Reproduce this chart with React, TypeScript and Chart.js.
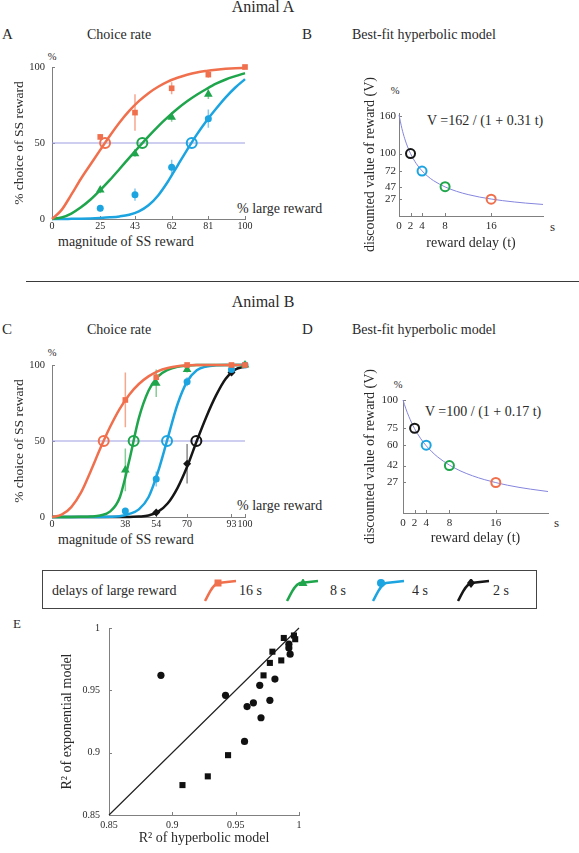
import React, { useEffect, useRef } from 'react';
import { Chart, registerables } from 'chart.js';

Chart.register(...registerables);

const SERIF = '"Liberation Serif", "Times New Roman", serif';
const TEXT = '#2a2a2a';
const AXIS = '#808080';
const ORANGE = '#f0704d';
const GREEN = '#1fa54c';
const BLUE = '#1ca4e0';
const BLACK = '#161616';
const ORANGE_ERR = '#f6a78e';
const GREEN_ERR = '#86cc96';
const BLUE_ERR = '#86c9ec';
const BLACK_ERR = '#8a8a8a';
const LAVENDER = '#9d9de2';
const HYPER = '#8585de';

// ---------- shared x grid for fitted choice curves (% large reward) ----------
const fitX = [0, 5, 10, 15, 20, 25, 30, 35, 40, 45, 50, 55, 60, 65, 70, 75, 80, 85, 90, 95, 100];
const midX = [0, 100];
const midY = [50, 50];

// ---------- Panel A : Animal A, choice rate ----------
const aTicksX = [0, 25, 43, 62, 81, 100];
const aTicksY = [0, 50, 100];
const aFit16 = [0, 6, 16, 26.5, 36, 45.5, 54.8, 63.5, 71.1, 77.5, 82.8, 87, 90.4, 92.9, 94.9, 96.4, 97.4, 98.2, 98.8, 99.2, 99.4];
const aFit8 = [0, 1, 3.6, 7.7, 12.8, 19, 25.7, 32.9, 40.2, 47.4, 54.4, 61, 67, 72.5, 77.4, 81.7, 85.5, 89, 91.8, 94, 96];
const aFit4 = [0, 0, 0.1, 0.2, 0.4, 0.7, 1.1, 1.7, 2.8, 5, 9, 15.5, 24.5, 35, 45.5, 55.5, 64.5, 72.5, 80, 86.5, 92];
const aX16 = [25, 43, 62, 81, 100];
const aY16 = [54, 70, 86, 95, 100];
const aE16 = [2, 12, 4, 2, 0];
const aX8 = [25, 43, 62, 81];
const aY8 = [19, 43, 67, 82];
const aE8 = [2, 2, 3, 3];
const aX4 = [25, 43, 62, 81];
const aY4 = [7, 16, 34, 66];
const aE4 = [2, 4, 5, 6];
const aHalfX = [27.5, 46.8, 72.4];
const aHalfY = [50, 50, 50];

// ---------- Panel C : Animal B, choice rate ----------
const cTicksX = [0, 38, 54, 70, 93, 100];
const cTicksY = [0, 50, 100];
const cFit16 = [0, 1.5, 6.5, 16, 30, 45, 59, 71, 80.5, 87.5, 92.5, 96, 98, 99.2, 99.7, 100, 100, 100, 100, 100, 100];
const cFit8 = [0, 0, 0, 0.1, 0.3, 1, 3.5, 12.5, 37, 65, 83, 92.5, 96.8, 98.8, 99.6, 100, 100, 100, 100, 100, 100];
const cFit4 = [0, 0, 0, 0, 0, 0, 0.1, 0.5, 2, 5, 13, 30, 52, 74, 89, 96.5, 99, 99.8, 100, 100, 100];
const cFit2 = [0, 0, 0, 0, 0, 0, 0, 0, 0, 0.3, 1, 3.5, 9, 19, 33, 50, 66, 80, 91, 97, 99];
const cX16 = [38, 54, 70, 93, 100];
const cY16 = [77, 92, 100, 100, 100];
const cE16 = [18, 3, 0, 0, 0];
const cX8 = [38, 54, 70, 100];
const cY8 = [31, 88, 97, 100];
const cE8 = [14, 9, 2, 0];
const cX4 = [38, 54, 70, 93, 100];
const cY4 = [4, 25, 89, 97, 100];
const cE4 = [2, 5, 3, 2, 0];
const cX2 = [54, 70, 93];
const cY2 = [3, 35, 95];
const cE2 = [2, 13, 2];
const cHalfX = [26.8, 42.3, 59.6, 74.8];
const cHalfY = [50, 50, 50, 50];

// ---------- Panels B and D : hyperbolic discounting ----------
const delayTicks = [0, 2, 4, 8, 16];
const delayT = [0, 0.5, 1, 1.5, 2, 3, 4, 5, 6, 8, 10, 12, 14, 16, 18, 20, 22, 25];
const bTicksY = [27, 47, 72, 100, 160];
const bCurve = [162, 140.3, 123.7, 110.6, 100, 83.9, 72.3, 63.5, 56.6, 46.6, 39.5, 34.3, 30.3, 27.2, 24.6, 22.5, 20.7, 18.5];
const markDelays = [2, 4, 8, 16];
const bMarks = [100, 72, 47, 27];
const dTicksY = [27, 42, 60, 75, 100];
const dCurve = [100, 92.2, 85.5, 79.7, 74.6, 66.2, 59.5, 54.1, 49.5, 42.4, 37.0, 32.9, 29.6, 26.9, 24.6, 22.7, 21.1, 19.0];
const dMarks = [75, 60, 42, 27];
const markColors = [BLACK, BLUE, GREEN, ORANGE];

// ---------- Panel E : R2 comparison ----------
const eTicks = [0.85, 0.9, 0.95, 1];
const diagX = [0.85, 1];
const diagY = [0.85, 1];
const circHyp = [0.891, 0.942, 0.959, 0.964, 0.969, 0.981, 0.977, 0.970, 0.957, 0.992, 0.992, 0.993];
const circExp = [0.962, 0.946, 0.937, 0.940, 0.954, 0.959, 0.942, 0.928, 0.909, 0.987, 0.984, 0.979];
const sqHyp = [0.908, 0.928, 0.944, 0.972, 0.977, 0.979, 0.986, 0.988, 0.996, 0.997];
const sqExp = [0.874, 0.881, 0.898, 0.962, 0.972, 0.981, 0.974, 0.992, 0.994, 0.991];

// ---------- helpers ----------
const pts = (xs: number[], ys: number[]) => xs.map((x, i) => ({ x, y: ys[i] }));

function linAxis(o: any) {
  return {
    type: 'linear',
    min: o.min,
    max: o.max,
    afterBuildTicks: (s: any) => {
      s.ticks = o.ticks.map((v: number) => ({ value: v }));
    },
    afterFit: (s: any) => {
      if (o.horiz) s.height = o.size;
      else s.width = o.size;
      s.paddingLeft = 0;
      s.paddingRight = 0;
      s.paddingTop = 0;
      s.paddingBottom = 0;
    },
    grid: { display: false, drawTicks: false },
    border: { display: true, color: AXIS, width: 1 },
    ticks: {
      padding: o.pad,
      autoSkip: false,
      maxRotation: 0,
      minRotation: 0,
      font: { family: SERIF, size: o.fs },
      color: TEXT,
      callback: (v: any) => String(v),
    },
    title: o.title
      ? {
          display: true,
          text: o.title,
          font: { family: SERIF, size: o.ts || 14 },
          color: TEXT,
          padding: o.horiz ? { top: 0, bottom: o.tpad } : { top: o.tpad, bottom: 0 },
        }
      : { display: false },
  };
}

function decor(xTicks: number[], yTicks: number[], len: number) {
  return {
    id: 'decor',
    beforeDatasetsDraw(chart: any) {
      const { ctx, chartArea: a, scales } = chart;
      const xs = scales.x;
      const ys = scales.y;
      ctx.save();
      ctx.strokeStyle = AXIS;
      ctx.lineWidth = 1;
      ctx.beginPath();
      xTicks.forEach((v) => {
        const p = Math.round(xs.getPixelForValue(v)) + 0.5;
        ctx.moveTo(p, a.bottom);
        ctx.lineTo(p, a.bottom - len);
      });
      yTicks.forEach((v) => {
        const p = Math.round(ys.getPixelForValue(v)) + 0.5;
        ctx.moveTo(a.left, p);
        ctx.lineTo(a.left + len, p);
      });
      ctx.stroke();
      chart.data.datasets.forEach((ds: any) => {
        if (!ds.errorBars) return;
        ctx.strokeStyle = ds.errorColor;
        ctx.lineWidth = 1.5;
        ctx.beginPath();
        ds.data.forEach((pt: any, j: number) => {
          const e = ds.errorBars[j];
          if (!e) return;
          const px = xs.getPixelForValue(pt.x);
          ctx.moveTo(px, ys.getPixelForValue(pt.y - e));
          ctx.lineTo(px, ys.getPixelForValue(pt.y + e));
        });
        ctx.stroke();
      });
      ctx.restore();
    },
  };
}

const curve = (xs: number[], ys: number[], color: string, width: number, order: number) => ({
  data: pts(xs, ys),
  showLine: true,
  pointRadius: 0,
  borderColor: color,
  borderWidth: width,
  cubicInterpolationMode: 'monotone',
  fill: false,
  order,
  clip: false,
});

const marks = (xs: number[], ys: number[], color: string, style: string, r: number, errs?: number[], errColor?: string) => ({
  data: pts(xs, ys),
  showLine: false,
  pointStyle: style,
  pointRadius: r,
  pointBackgroundColor: color,
  pointBorderColor: color,
  pointBorderWidth: 0,
  errorBars: errs,
  errorColor: errColor,
  order: 1,
  clip: false,
});

const rings = (xs: number[], ys: number[], colors: string[], r: number, bw: number) => ({
  data: pts(xs, ys),
  showLine: false,
  pointStyle: 'circle',
  pointRadius: r,
  pointBackgroundColor: 'rgba(0,0,0,0)',
  pointBorderColor: colors,
  pointBorderWidth: bw,
  order: 0,
  clip: false,
});

function baseOptions(padding: any, scales: any) {
  return {
    responsive: false,
    animation: false,
    devicePixelRatio: 1,
    events: [],
    layout: { padding },
    plugins: { legend: { display: false }, tooltip: { enabled: false } },
    scales,
  };
}

function choiceScales(xTicks: number[], yTicks: number[]) {
  return {
    x: linAxis({ min: 0, max: 100, ticks: xTicks, size: 35, horiz: true, pad: 1.8, fs: 10 }),
    y: linAxis({ min: 0, max: 100, ticks: yTicks, size: 52, horiz: false, pad: 7, fs: 10.5, title: '% choice of SS reward', tpad: 11.8, ts: 13.5 }),
  };
}

const buildA = () => ({
  type: 'scatter',
  data: {
    datasets: [
      rings(aHalfX, aHalfY, [ORANGE, GREEN, BLUE], 5, 2),
      marks(aX16, aY16, ORANGE, 'rect', 4, aE16, ORANGE_ERR),
      marks(aX8, aY8, GREEN, 'triangle', 5, aE8, GREEN_ERR),
      marks(aX4, aY4, BLUE, 'circle', 3.5, aE4, BLUE_ERR),
      curve(fitX, aFit16, ORANGE, 2.5, 2),
      curve(fitX, aFit8, GREEN, 2.5, 2),
      curve(fitX, aFit4, BLUE, 2.5, 2),
      curve(midX, midY, LAVENDER, 1, 3),
    ],
  },
  options: baseOptions({ left: 0, right: 45, top: 23, bottom: 0 }, choiceScales(aTicksX, aTicksY)),
  plugins: [decor(aTicksX.slice(1), aTicksY.slice(1), 3)],
});

const buildC = () => ({
  type: 'scatter',
  data: {
    datasets: [
      rings(cHalfX, cHalfY, [ORANGE, GREEN, BLUE, BLACK], 5, 2),
      marks(cX16, cY16, ORANGE, 'rect', 4, cE16, ORANGE_ERR),
      marks(cX8, cY8, GREEN, 'triangle', 5, cE8, GREEN_ERR),
      marks(cX4, cY4, BLUE, 'circle', 3.5, cE4, BLUE_ERR),
      marks(cX2, cY2, BLACK, 'rectRot', 4, cE2, BLACK_ERR),
      curve(fitX, cFit16, ORANGE, 2.5, 2),
      curve(fitX, cFit8, GREEN, 2.5, 2),
      curve(fitX, cFit4, BLUE, 2.5, 2),
      curve(fitX, cFit2, BLACK, 2.5, 2),
      curve(midX, midY, LAVENDER, 1, 3),
    ],
  },
  options: baseOptions({ left: 0, right: 45, top: 23, bottom: 0 }, choiceScales(cTicksX, cTicksY)),
  plugins: [decor(cTicksX.slice(1), cTicksY.slice(1), 3)],
});

const buildB = () => ({
  type: 'scatter',
  data: {
    datasets: [
      rings(markDelays, bMarks, markColors, 4.5, 2),
      curve(delayT, bCurve, HYPER, 1, 2),
    ],
  },
  options: baseOptions(
    { left: 0, right: 36, top: 53, bottom: 0 },
    {
      x: linAxis({ min: 0, max: 25, ticks: delayTicks, size: 44, horiz: true, pad: 4, fs: 11, title: 'reward delay (t)', tpad: 8 }),
      y: linAxis({ min: 0, max: 165, ticks: bTicksY, size: 109, horiz: false, pad: 3, fs: 11, title: 'discounted value of reward (V)', tpad: 71.6 }),
    }
  ),
  plugins: [decor(delayTicks.slice(1), bTicksY, 3)],
});

const buildD = () => ({
  type: 'scatter',
  data: {
    datasets: [
      rings(markDelays, dMarks, markColors, 4.5, 2),
      curve(delayT, dCurve, HYPER, 1, 2),
    ],
  },
  options: baseOptions(
    { left: 0, right: 31, top: 40, bottom: 0 },
    {
      x: linAxis({ min: 0, max: 25, ticks: delayTicks, size: 47, horiz: true, pad: 3.4, fs: 11, title: 'reward delay (t)', tpad: 13 }),
      y: linAxis({ min: 0, max: 100, ticks: dTicksY, size: 113, horiz: false, pad: 5, fs: 11, title: 'discounted value of reward (V)', tpad: 71.6 }),
    }
  ),
  plugins: [decor(delayTicks.slice(1), dTicksY, 3)],
});

const buildE = () => ({
  type: 'scatter',
  data: {
    datasets: [
      marks(circHyp, circExp, '#111', 'circle', 3.6),
      marks(sqHyp, sqExp, '#111', 'rect', 4.3),
      curve(diagX, diagY, '#222', 1.2, 2),
    ],
  },
  options: baseOptions(
    { left: 0, right: 21, top: 13, bottom: 0 },
    {
      x: linAxis({ min: 0.85, max: 1, ticks: eTicks, size: 38, horiz: true, pad: 4, fs: 10, title: 'R² of hyperbolic model', tpad: 6 }),
      y: linAxis({ min: 0.85, max: 1, ticks: eTicks, size: 109, horiz: false, pad: 9, fs: 10, title: 'R² of exponential model', tpad: 58.6 }),
    }
  ),
  plugins: [decor(eTicks.slice(1), eTicks.slice(1), 3)],
});

function ChartCanvas({ left, top, width, height, build }: any) {
  const ref = useRef<HTMLCanvasElement>(null);
  useEffect(() => {
    const chart = new Chart(ref.current as any, build() as any);
    return () => chart.destroy();
  }, []);
  return (
    <canvas
      ref={ref}
      width={width}
      height={height}
      style={{ position: 'absolute', left, top, width, height }}
    />
  );
}

function T({ x, y, s = 14, align = 'left', children }: any) {
  const style: any = {
    position: 'absolute',
    left: x,
    top: y - 0.84 * s,
    fontSize: s,
    lineHeight: '1',
    whiteSpace: 'nowrap',
    color: TEXT,
    fontFamily: SERIF,
  };
  if (align === 'center') style.transform = 'translateX(-50%)';
  return <div style={style}>{children}</div>;
}

function LegendIcon({ x, color, shape, mx }: any) {
  const my = 4;
  let marker: any = null;
  if (shape === 'rect') marker = <rect x={mx - 3.5} y={my - 3.5} width={7} height={7} fill={color} />;
  if (shape === 'triangle') marker = <polygon points={`${mx},${my - 5} ${mx + 4.5},${my + 3} ${mx - 4.5},${my + 3}`} fill={color} />;
  if (shape === 'circle') marker = <circle cx={mx} cy={my} r={4} fill={color} />;
  if (shape === 'diamond') marker = <polygon points={`${mx},${my - 5} ${mx + 4},${my} ${mx},${my + 5} ${mx - 4},${my}`} fill={color} />;
  return (
    <svg width={34} height={24} style={{ position: 'absolute', left: x, top: 579 }}>
      <path d="M1,22 C5,15 8,6 14,4 L32,2" stroke={color} strokeWidth={2.5} fill="none" />
      {marker}
    </svg>
  );
}

export default function App() {
  return (
    <div
      style={{
        position: 'absolute',
        left: 0,
        top: 0,
        width: 579,
        height: 853,
        background: '#fff',
        fontFamily: SERIF,
        overflow: 'hidden',
      }}
    >
      {/* Animal A */}
      <T x={263} y={12} s={16} align="center">Animal A</T>
      <T x={2} y={40} s={15}>A</T>
      <T x={87} y={40}>Choice rate</T>
      <T x={52} y={61} s={10.5} align="center">%</T>
      <T x={237} y={214}>% large reward</T>
      <T x={58} y={247}>magnitude of SS reward</T>
      <T x={302} y={40} s={15}>B</T>
      <T x={352} y={40}>Best-fit hyperbolic model</T>
      <T x={395} y={95} s={10.5} align="center">%</T>
      <T x={427} y={126}>V =162 / (1 + 0.31 t)</T>
      <T x={550} y={231} s={13}>s</T>
      <ChartCanvas left={0} top={44} width={290} height={210} build={buildA} />
      <ChartCanvas left={290} top={60} width={289} height={200} build={buildB} />

      <div style={{ position: 'absolute', left: 26, top: 281, width: 553, borderTop: '1.5px solid #3a3a3a' }} />

      {/* Animal B */}
      <T x={263} y={307} s={16} align="center">Animal B</T>
      <T x={2} y={335} s={15}>C</T>
      <T x={87} y={335}>Choice rate</T>
      <T x={52} y={357} s={10.5} align="center">%</T>
      <T x={237} y={511}>% large reward</T>
      <T x={58} y={545}>magnitude of SS reward</T>
      <T x={302} y={335} s={15}>D</T>
      <T x={352} y={335}>Best-fit hyperbolic model</T>
      <T x={398} y={389} s={10.5} align="center">%</T>
      <T x={425} y={417}>V =100 / (1 + 0.17 t)</T>
      <T x={554} y={527} s={13}>s</T>
      <ChartCanvas left={0} top={342} width={290} height={210} build={buildC} />
      <ChartCanvas left={290} top={360} width={289} height={200} build={buildD} />

      {/* legend */}
      <div
        style={{
          position: 'absolute',
          left: 42,
          top: 570,
          width: 495,
          height: 39,
          border: '1.5px solid #444',
          boxSizing: 'border-box',
        }}
      />
      <T x={52} y={596}>delays of large reward</T>
      <LegendIcon x={204} color={ORANGE} shape="rect" mx={14} />
      <T x={239} y={596}>16 s</T>
      <LegendIcon x={286} color={GREEN} shape="triangle" mx={17} />
      <T x={330} y={596}>8 s</T>
      <LegendIcon x={372} color={BLUE} shape="circle" mx={9} />
      <T x={412} y={596}>4 s</T>
      <LegendIcon x={457} color={BLACK} shape="diamond" mx={14} />
      <T x={493} y={596}>2 s</T>

      {/* panel E */}
      <T x={13} y={628} s={13}>E</T>
      <ChartCanvas left={0} top={615} width={320} height={238} build={buildE} />
    </div>
  );
}
